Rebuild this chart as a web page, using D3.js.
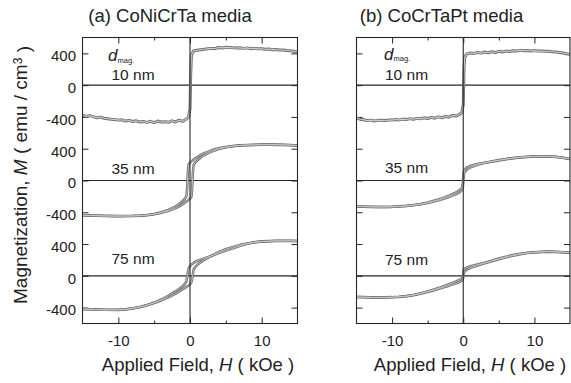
<!DOCTYPE html>
<html><head><meta charset="utf-8">
<script src="https://cdn.jsdelivr.net/npm/d3@7"></script>
<style>
body{margin:0;background:#fff}
svg{display:block}
text{font-family:"Liberation Sans",Arial,Helvetica,sans-serif;fill:#222}
</style>
</head><body><svg id="c" width="571" height="383"></svg>
<script>
// ---------------- data ----------------
const panelTitles = ["(a) CoNiCrTa media", "(b) CoCrTaPt media"];
const thicknessLabels = ["10 nm", "35 nm", "75 nm"];
const xMajorTicks = [-10, 0, 10];
const xMinorTicks = [-5, 5];
const yTicks = [-400, 0, 400];
const xDomain = [-15, 15];
const yDomain = [-600, 600];

// (a) CoNiCrTa, 10 nm (square loop, noisy)
const a10H = [-15,-14.5,-14,-13.5,-13,-12.5,-12,-11.5,-11,-10.5,-10,-9.5,-9,-8.5,-8,-7.5,-7,-6.5,-6,-5.5,-5,-4.5,-4,-3.5,-3,-2.5,-2,-1.5,-1,-0.5,-0.2,0,0.1,0.2,0.5,1,1.5,2,2.5,3,3.5,4,4.5,5,5.5,6,6.5,7,7.5,8,8.5,9,9.5,10,10.5,11,11.5,12,12.5,13,13.5,14,14.5,15];
const a10M = [-378,-393,-384,-396,-411,-402,-417,-423,-428,-431,-440,-436,-452,-444,-458,-449,-463,-458,-468,-455,-472,-452,-463,-461,-468,-449,-463,-441,-455,-426,-400,-300,150,380,430,440,446,452,457,463,461,474,469,476,473,470,468,470,463,469,459,463,457,458,452,455,447,449,443,443,436,434,426,415];
// (b) CoCrTaPt, 10 nm
const b10H = a10H.slice();
const b10M = [-413,-428,-435,-446,-440,-450,-443,-443,-444,-439,-440,-432,-437,-427,-432,-421,-429,-418,-424,-411,-420,-405,-416,-399,-410,-394,-403,-381,-389,-368,-340,-250,200,350,394,404,400,412,403,417,406,421,411,426,418,429,423,434,429,438,433,436,431,435,429,431,426,427,421,417,411,404,396,385];

// (a) 35 nm
const a35DescH = [15,14,13,12,11,10,9,8,7,6,5,4,3,2,1.5,1,0.6,0.3,0.1,-0.1,-0.2,-0.3,-0.4,-0.5,-0.7,-1,-1.5,-2,-3,-4,-5,-6,-7,-8,-10,-12,-14,-15];
const a35DescM = [440,447,450,452,453,452,450,448,443,435,422,405,380,345,322,295,270,250,235,215,200,100,-100,-200,-228,-255,-295,-325,-370,-400,-422,-435,-441,-445,-447,-445,-440,-437];
const a35AscH = [-15,-14,-12,-10,-8,-7,-6,-5,-4,-3,-2,-1.5,-1,-0.6,-0.3,-0.1,0.1,0.2,0.3,0.4,0.5,0.7,1,1.5,2,3,4,5,6,7,8,9,10,11,12,13,14,15];
const a35AscM = [-437,-442,-447,-449,-447,-443,-437,-425,-407,-382,-348,-325,-298,-272,-252,-238,-218,-203,-105,95,195,222,250,290,320,365,396,418,432,440,445,448,449,449,448,446,444,440];

// (a) 75 nm
const a75DescH = [15,14,12,10,9,8,7,6,5,4,3,2,1,0.5,0.2,0,-0.2,-0.35,-0.5,-0.8,-1,-1.5,-2,-3,-4,-5,-6,-7,-8,-9,-10,-12,-14,-15];
const a75DescM = [438,441,442,434,422,402,377,347,317,285,252,220,187,163,143,122,90,20,-70,-112,-128,-163,-193,-248,-298,-336,-368,-391,-408,-420,-427,-428,-421,-416];
const a75AscH = [-15,-14,-12,-10,-9,-8,-7,-6,-5,-4,-3,-2,-1,-0.5,-0.2,0,0.2,0.35,0.5,0.8,1,1.5,2,3,4,5,6,7,8,9,10,12,14,15];
const a75AscM = [-416,-421,-428,-430,-424,-412,-395,-370,-342,-310,-272,-225,-168,-140,-125,-108,-80,-10,80,118,135,170,200,255,298,335,365,390,408,422,430,438,440,438];

// (b) 35 nm
const b35DescH = [15,14,13,12,11,10,9,8,7,6,5,4,3,2,1,0.5,0.2,0.05,-0.05,-0.2,-0.6,-1,-2,-3,-4,-5,-6,-7,-8,-9,-10,-11,-12,-13,-14,-15];
const b35DescM = [272,285,296,303,306,305,300,293,284,272,257,240,224,207,185,165,135,100,-40,-95,-128,-150,-192,-225,-252,-275,-295,-308,-318,-325,-330,-332,-332,-330,-327,-323];
const b35AscH = [-15,-14,-13,-12,-11,-10,-9,-8,-7,-6,-5,-4,-3,-2,-1,-0.5,-0.2,-0.05,0.05,0.2,0.6,1,2,3,4,5,6,7,8,9,10,11,12,13,14,15];
const b35AscM = [-325,-330,-333,-334,-334,-332,-328,-322,-313,-300,-283,-262,-237,-207,-170,-148,-120,-80,60,110,145,165,198,222,237,253,268,281,290,297,302,304,303,298,286,272];

// (b) 75 nm
const b75DescH = b35DescH.slice();
const b75DescM = [292,298,303,306,304,298,290,278,262,242,218,190,165,142,120,105,90,72,-5,-35,-56,-70,-106,-140,-168,-195,-220,-240,-255,-263,-268,-271,-272,-270,-268,-266];
const b75AscH = b35AscH.slice();
const b75AscM = [-268,-270,-272,-273,-272,-270,-265,-257,-244,-226,-203,-178,-150,-124,-95,-78,-62,-45,30,55,82,100,130,158,183,208,232,254,272,286,295,301,303,301,297,292];

// ---------------- layout ----------------
const svg = d3.select("#c");
const plotTop = 37.5, plotBottom = 323.5, sh = (plotBottom - plotTop) / 3;
const ink = "#262626";

const panels = [
  {title: panelTitles[0], x0: 82.5, x1: 297.5, titleX: 170, xlabX: 198, yLabels: true,
   dX: 108, dY: 61, nmX: 111.5, nmY: [80, 173.5, 263.5],
   curves: [[[a10H, a10M]], [[a35DescH, a35DescM], [a35AscH, a35AscM]], [[a75DescH, a75DescM], [a75AscH, a75AscM]]]},
  {title: panelTitles[1], x0: 356.5, x1: 570, titleX: 441.5, xlabX: 470, yLabels: false,
   dX: 384, dY: 59.5, nmX: 385, nmY: [80, 173, 264.5],
   curves: [[[b10H, b10M]], [[b35DescH, b35DescM], [b35AscH, b35AscM]], [[b75DescH, b75DescM], [b75AscH, b75AscM]]]}
];

function styleAxis(g) {
  g.select(".domain").remove();
  g.selectAll(".tick line").attr("stroke", ink).attr("stroke-width", 1);
}
const fmt = d => d < 0 ? "-" + Math.abs(d) : String(d);

panels.forEach((p, pi) => {
  const x = d3.scaleLinear().domain(xDomain).range([p.x0, p.x1]);
  const g = svg.append("g");
  const clipId = "clip" + pi;
  svg.append("clipPath").attr("id", clipId).append("rect")
    .attr("x", p.x0).attr("y", plotTop).attr("width", p.x1 - p.x0).attr("height", plotBottom - plotTop);

  // title
  svg.append("text").attr("x", p.titleX).attr("y", 22).attr("text-anchor", "middle")
    .style("font-size", "18.5px").text(p.title);

  // x label
  const xl = svg.append("text").attr("x", p.xlabX).attr("y", 371).attr("text-anchor", "middle")
    .style("font-size", "18.5px");
  xl.append("tspan").text("Applied Field,  ");
  xl.append("tspan").style("font-style", "italic").text("H");
  xl.append("tspan").text(" ( kOe )");

  // x axes (bottom with labels, top without)
  const xb = g.append("g").attr("transform", `translate(0,${plotBottom})`)
    .call(d3.axisBottom(x).tickValues(xMajorTicks).tickSize(-6).tickPadding(12).tickFormat(fmt));
  styleAxis(xb);
  xb.selectAll("text").style("font-size", "15px").attr("fill", "#222")
    .style("font-family", '"Liberation Sans",Arial,sans-serif');
  styleAxis(g.append("g").attr("transform", `translate(0,${plotBottom})`)
    .call(d3.axisBottom(x).tickValues(xMinorTicks).tickSize(-3).tickFormat("")));
  styleAxis(g.append("g").attr("transform", `translate(0,${plotTop})`)
    .call(d3.axisTop(x).tickValues(xMajorTicks).tickSize(-6).tickFormat("")));
  styleAxis(g.append("g").attr("transform", `translate(0,${plotTop})`)
    .call(d3.axisTop(x).tickValues(xMinorTicks).tickSize(-3).tickFormat("")));

  // sub plots
  for (let i = 0; i < 3; i++) {
    const y = d3.scaleLinear().domain(yDomain).range([plotTop + (i + 1) * sh, plotTop + i * sh]);
    const yl = g.append("g").attr("transform", `translate(${p.x0},0)`)
      .call(d3.axisLeft(y).tickValues(yTicks).tickSize(-6).tickPadding(6.5)
        .tickFormat(p.yLabels ? fmt : ""));
    styleAxis(yl);
    yl.selectAll("text").style("font-size", "15px").attr("fill", "#222").attr("dy", "0.49em")
      .style("font-family", '"Liberation Sans",Arial,sans-serif');
    styleAxis(g.append("g").attr("transform", `translate(${p.x1},0)`)
      .call(d3.axisRight(y).tickValues(yTicks).tickSize(-6).tickFormat("")));

    // zero line
    g.append("line").attr("x1", p.x0).attr("x2", p.x1)
      .attr("y1", y(0)).attr("y2", y(0)).attr("stroke", ink).attr("stroke-width", 1.1);

    // curves (drawn as a hollow grey band, like the densely spaced open markers of the original)
    const line = d3.line().x(d => x(d[0])).y(d => y(d[1]));
    const cg = g.append("g").attr("clip-path", `url(#${clipId})`);
    p.curves[i].forEach(([h, m]) => {
      cg.append("path").attr("d", line(d3.zip(h, m))).attr("fill", "none")
        .attr("stroke", "#6e6e6e").attr("stroke-width", i === 0 ? 3.0 : 2.5).attr("stroke-linejoin", "round");
    });
    p.curves[i].forEach(([h, m]) => {
      cg.append("path").attr("d", line(d3.zip(h, m))).attr("fill", "none")
        .attr("stroke", "#cfcfcf").attr("stroke-width", i === 0 ? 1.1 : 0.8).attr("stroke-linejoin", "round");
    });

    // thickness label
    g.append("text").attr("x", p.nmX).attr("y", p.nmY[i]).style("font-size", "15.5px").text(thicknessLabels[i]);
  }

  // vertical line at H = 0
  g.append("line").attr("x1", x(0)).attr("x2", x(0)).attr("y1", plotTop).attr("y2", plotBottom)
    .attr("stroke", ink).attr("stroke-width", 1.1);

  // frame
  g.append("rect").attr("x", p.x0).attr("y", plotTop).attr("width", p.x1 - p.x0).attr("height", plotBottom - plotTop)
    .attr("fill", "none").attr("stroke", ink).attr("stroke-width", 1.1);

  // d_mag label
  g.append("text").attr("x", p.dX).attr("y", p.dY).style("font-size", "17px").style("font-style", "italic").text("d");
  g.append("text").attr("x", p.dX + 9.5).attr("y", p.dY + 1.5).style("font-size", "7.5px").text("mag.");
});

// y label
const yLab = svg.append("text").attr("transform", "translate(27,175) rotate(-90)")
  .attr("text-anchor", "middle").style("font-size", "19px");
yLab.append("tspan").text("Magnetization,  ");
yLab.append("tspan").style("font-style", "italic").text("M");
yLab.append("tspan").text(" ( emu / cm");
yLab.append("tspan").attr("dy", "-0.45em").style("font-size", "12px").text("3");
yLab.append("tspan").attr("dy", "0.45em").text(" )");
</script>
</body></html>
